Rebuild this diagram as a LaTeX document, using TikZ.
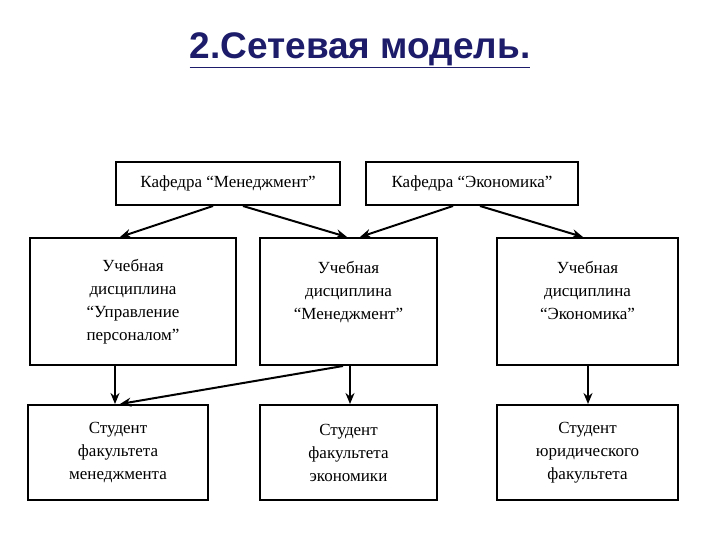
\documentclass[tikz,border=0pt]{standalone}
\usepackage{fontspec}
\setmainfont{Liberation Serif}
\newfontfamily\titlefont{Liberation Sans}
\usetikzlibrary{arrows.meta}
\definecolor{titleblue}{HTML}{1C1C6A}
\begin{document}
\begin{tikzpicture}[x=1pt,y=-1pt,
 box/.style={draw,line width=2pt,minimum width=#1,align=center,font=\fontsize{17}{23}\selectfont,inner sep=0pt},
 arr/.style={line width=2pt,-{Stealth[length=11pt,width=9pt]}}]
\useasboundingbox (0,0) rectangle (720,540);
\node[font=\titlefont\bfseries\fontsize{37}{40}\selectfont,text=titleblue] (title) at (360,50) {\underline{2.Сетевая модель.}};
\node[box=224pt,minimum height=43pt] (k1) at (228,183.5) {Кафедра “Менеджмент”};
\node[box=212pt,minimum height=43pt] (k2) at (472,183.5) {Кафедра “Экономика”};
\node[box=206pt,minimum height=127pt] (m1) at (133,301.5) {Учебная\\дисциплина\\“Управление\\персоналом”};
\node[draw,line width=2pt,minimum width=177pt,minimum height=127pt] (m2) at (348.5,301.5) {};
\node[font=\fontsize{17}{23}\selectfont,align=center,anchor=north,inner sep=0pt] (m2t) at (348.5,261) {Учебная\\дисциплина\\“Менеджмент”};
\node[draw,line width=2pt,minimum width=181pt,minimum height=127pt] (m3) at (587.5,301.5) {};
\node[font=\fontsize{17}{23}\selectfont,align=center,anchor=north,inner sep=0pt] (m3t) at (587.5,261) {Учебная\\дисциплина\\“Экономика”};
\node[box=180pt,minimum height=95pt] (b1) at (118,452.5) {Студент\\факультета\\менеджмента};
\node[box=177pt,minimum height=95pt] (b2) at (348.5,452.5) {Студент\\факультета\\экономики};
\node[box=181pt,minimum height=95pt] (b3) at (587.5,452.5) {Студент\\юридического\\факультета};
\draw[arr] (k1.south -| 213,0) -- (m1.north -| 120,0);
\draw[arr] (k1.south -| 243,0) -- (m2.north -| 347,0);
\draw[arr] (k2.south -| 453,0) -- (m2.north -| 360,0);
\draw[arr] (k2.south -| 480,0) -- (m3.north -| 583,0);
\draw[arr] (m1.south -| 115,0) -- (b1.north -| 115,0);
\draw[arr] (m2.south -| 350,0) -- (b2.north -| 350,0);
\draw[arr] (m2.south -| 343,0) -- (b1.north -| 120,0);
\draw[arr] (m3.south -| 588,0) -- (b3.north -| 588,0);
\end{tikzpicture}
\end{document}
